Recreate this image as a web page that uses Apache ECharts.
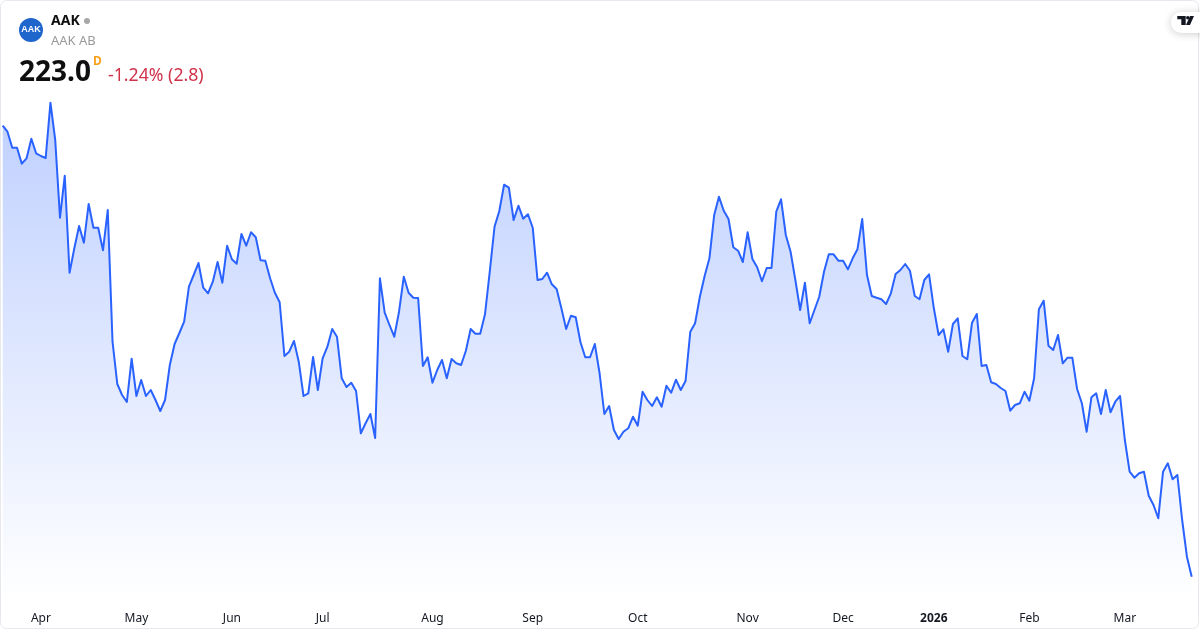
<!DOCTYPE html>
<html>
<head>
<meta charset="utf-8">
<style>html,body{margin:0;padding:0;background:#fff}#c{width:1200px;height:630px}</style>
<script src="https://cdn.jsdelivr.net/npm/echarts@6/dist/echarts.min.js"></script>
</head>
<body>
<div id="c"></div>
<script>
const closes = [
286.18,285.34,283.10,283.10,280.86,281.62,284.36,282.32,281.94,281.66,
289.40,284.18,273.30,279.18,265.60,269.02,272.14,269.80,275.22,271.90,
271.90,268.74,274.38,255.94,250.02,248.48,247.50,253.56,248.34,250.58,
248.34,249.18,247.78,246.24,247.78,252.68,255.62,257.16,258.74,263.64,
265.28,266.96,263.50,262.72,264.34,267.10,264.20,269.38,267.48,266.86,
271.02,269.38,271.26,270.56,267.34,267.28,264.82,262.80,261.46,253.94,
254.54,256.04,253.14,248.34,248.72,253.80,249.18,253.62,255.24,257.72,
256.64,250.82,249.60,250.20,249.04,243.12,244.52,245.82,242.46,264.82,
260.00,258.28,256.64,260.14,265.04,262.80,262.10,262.06,252.54,253.76,
250.20,251.98,253.38,250.82,253.52,252.92,252.68,254.68,257.72,257.06,
257.06,259.78,265.74,272.04,274.24,277.92,277.50,272.98,274.98,273.16,
273.78,271.90,264.58,264.72,265.60,263.98,263.32,260.62,257.72,259.58,
259.36,255.86,253.76,253.76,255.62,251.52,245.82,246.94,243.58,242.32,
243.34,243.82,245.44,244.18,248.94,247.78,246.94,248.16,246.84,249.78,
248.80,250.62,249.18,250.44,257.34,258.52,262.24,265.14,267.62,273.68,
276.24,274.28,273.12,269.16,268.68,267.10,271.26,267.52,266.36,264.40,
266.26,266.26,274.14,275.88,270.88,268.54,264.58,260.38,264.20,258.52,
260.38,262.24,265.74,268.18,268.18,267.28,267.28,266.08,267.62,268.88,
273.12,265.28,262.34,262.10,261.88,261.22,262.72,265.42,265.98,266.82,
265.88,262.34,261.88,264.58,265.38,260.62,256.88,257.68,254.54,258.42,
259.22,253.94,253.48,258.60,259.82,252.54,252.68,250.26,250.02,249.46,
249.04,246.28,247.08,247.32,248.94,247.68,250.82,260.48,261.68,255.38,
254.78,256.88,252.92,253.70,253.70,249.32,247.32,243.34,248.16,248.72,
245.82,249.18,246.06,247.54,248.34,242.18,237.74,236.90,237.52,237.74,
234.38,233.08,231.22,237.74,238.92,236.68,237.28,230.98,225.84,223.04
];
const monthLabels = ['Apr','May','Jun','Jul','Aug','Sep','Oct','Nov','Dec','2026','Feb','Mar'];
const monthSessions = [8,28,48,67,90,111,133,156,176,195,215,235];
const categories = closes.map((_, i) => {
  const k = monthSessions.indexOf(i);
  return k >= 0 ? monthLabels[k] : '';
});

const FONT = '"Noto Sans", sans-serif';
const chart = echarts.init(document.getElementById('c'), null, {renderer:'canvas', width:1200, height:630});
chart.setOption({
  animation:false,
  backgroundColor:'#ffffff',
  grid:{left:2.7,right:8.3,top:0,bottom:28},
  xAxis:{
    type:'category',boundaryGap:false,data:categories,
    axisLine:{show:false},axisTick:{show:false},splitLine:{show:false},
    axisLabel:{
      interval:i => categories[i] !== '',
      margin:11,fontFamily:FONT,fontSize:12,color:'#131722',
      formatter:v => v === '2026' ? '{y|2026}' : v,
      rich:{y:{fontWeight:'bold',fontFamily:FONT,fontSize:12,color:'#131722'}}
    }
  },
  yAxis:{type:'value',show:false,min:219.5,max:303.78,scale:true},
  series:[{
    type:'line',data:closes,symbol:'none',smooth:false,silent:true,
    lineStyle:{color:'#2962FF',width:2,join:'round'},
    areaStyle:{origin:'start',opacity:1,color:new echarts.graphic.LinearGradient(0,0,0,1,[
      {offset:0,color:'rgba(41,98,255,0.3)'},
      {offset:1,color:'rgba(41,98,255,0)'}
    ])}
  }],
  graphic:[
    {type:'rect',silent:true,z:1,shape:{x:0.5,y:0.5,width:1198,height:628,r:6},style:{fill:'none',stroke:'#E6E8EE',lineWidth:1}},
    {type:'circle',z:10,shape:{cx:31,cy:30,r:12},style:{fill:'#1F66CC'}},
    {type:'text',z:11,x:31,y:30,style:{text:'AAK',fill:'#fff',font:'bold 9px "Liberation Sans", sans-serif',textAlign:'center',textVerticalAlign:'middle'}},
    {type:'text',z:10,x:51,y:21,style:{text:'AAK',fill:'#0F0F0F',font:'bold 14px '+FONT,textAlign:'left',textVerticalAlign:'middle'}},
    {type:'circle',z:10,shape:{cx:87,cy:21,r:3},style:{fill:'#A8A8A8'}},
    {type:'text',z:10,x:51,y:41,style:{text:'AAK AB',fill:'#9a9a9a',font:'13px '+FONT,textAlign:'left',textVerticalAlign:'middle'}},
    {type:'text',z:10,x:19,y:73,style:{text:'223.0',fill:'#0F0F0F',font:'bold 28px '+FONT,textAlign:'left',textVerticalAlign:'middle'}},
    {type:'text',z:10,x:93,y:62,style:{text:'D',fill:'#F9A01B',font:'bold 12px '+FONT,textAlign:'left',textVerticalAlign:'middle'}},
    {type:'text',z:10,x:108,y:76,style:{text:'-1.24% (2.8)',fill:'#D0324A',font:'17.7px '+FONT,textAlign:'left',textVerticalAlign:'middle'}},
    {type:'rect',z:9,shape:{x:1171,y:12,width:40,height:21,r:10},style:{fill:'#fff',shadowBlur:8,shadowColor:'rgba(0,0,0,0.2)',shadowOffsetY:1}},
    {type:'polygon',z:10,shape:{points:[[1177.3,16],[1185.7,16],[1185.7,25],[1181.3,25],[1181.3,19.3],[1177.3,19.3]]},style:{fill:'#131722'}},
    {type:'circle',z:10,shape:{cx:1187.8,cy:17.8,r:1.8},style:{fill:'#131722'}},
    {type:'polygon',z:10,shape:{points:[[1190,16],[1194,16],[1190,25],[1186,25]]},style:{fill:'#131722'}}
  ]
});
</script>
</body>
</html>
